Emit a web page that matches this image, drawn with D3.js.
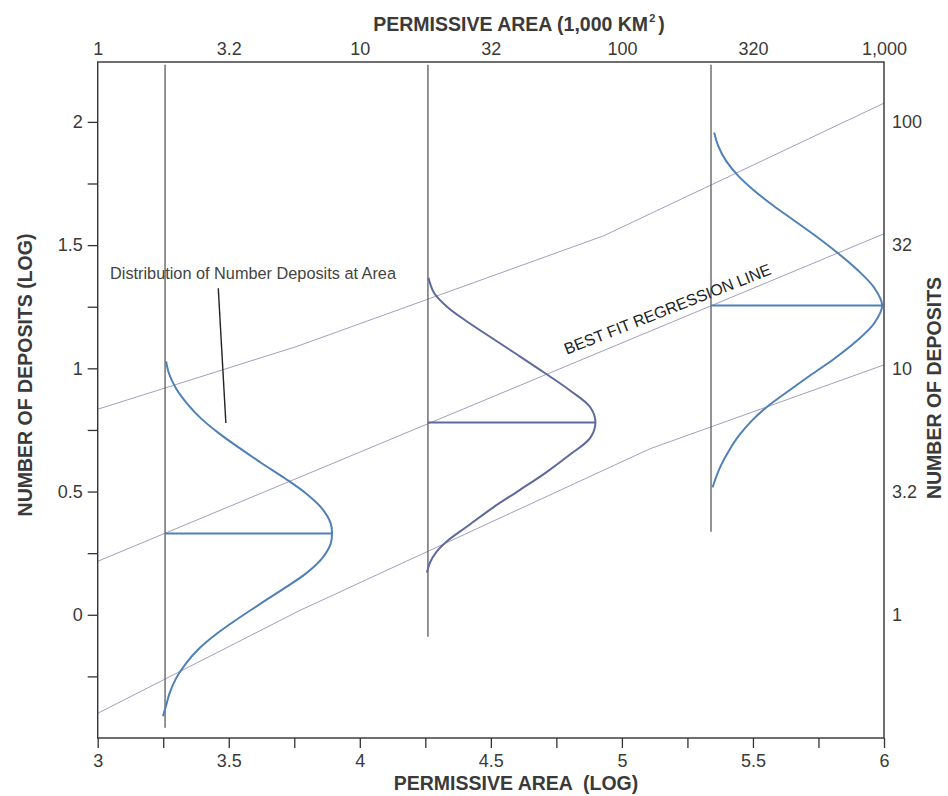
<!DOCTYPE html>
<html>
<head>
<meta charset="utf-8">
<script src="https://cdn.jsdelivr.net/npm/d3@7"></script>
<style>
  body { margin: 0; background: #fff; }
  svg { display: block; font-family: "Liberation Sans", Arial, Helvetica, sans-serif; }
  .axis text { font-size: 18px; fill: #3a3a3a; }
  .axis line { stroke: #333; stroke-width: 1.3; }
  .axis path { display: none; }
  .title { font-size: 19.5px; font-weight: bold; fill: #3a3a3a; white-space: pre; }
</style>
</head>
<body>
<div id="chart"></div>
<script>
// Ticks and labels
let xTicks = [3, 3.25, 3.5, 3.75, 4, 4.25, 4.5, 4.75, 5, 5.25, 5.5, 5.75, 6];
let yTicks = [-0.25, 0, 0.25, 0.5, 0.75, 1, 1.25, 1.5, 1.75, 2];
let topTickValues = [3, 3.5, 4, 4.5, 5, 5.5, 6];
let topTickLabels = ["1", "3.2", "10", "32", "100", "320", "1,000"];
let rightTickValues = [0, 0.5, 1, 1.5, 2];
let rightTickLabels = ["1", "3.2", "10", "32", "100"];

// Regression line and its bands (log area, log deposits)
let fitLine = [[3.0, 0.217], [6.0, 1.546]];
let upperBand = [[3.0, 0.834], [3.76, 1.089], [4.931, 1.538], [6.0, 2.076]];
let lowerBand = [[3.0, -0.400], [3.772, 0.018], [5.108, 0.674], [6.0, 1.014]];

// Distributions at three areas
let distX = [3.257, 4.26, 5.34];
let distMean = [0.33, 0.78, 1.255];
let distLineBottom = [-0.458, -0.089, 0.337];
let curve1 = [[3.261, 1.028], [3.272, 0.979], [3.299, 0.918], [3.341, 0.857], [3.394, 0.797], [3.463, 0.736],
              [3.543, 0.675], [3.627, 0.614], [3.715, 0.553], [3.795, 0.492], [3.856, 0.431], [3.889, 0.371],
              [3.894, 0.330], [3.889, 0.289], [3.856, 0.229], [3.795, 0.168], [3.711, 0.107], [3.623, 0.046],
              [3.536, -0.015], [3.455, -0.076], [3.387, -0.137], [3.337, -0.197], [3.299, -0.258],
              [3.274, -0.319], [3.261, -0.368], [3.249, -0.412]];
let curve2 = [[4.262, 1.368], [4.283, 1.307], [4.336, 1.247], [4.409, 1.190], [4.501, 1.125], [4.600, 1.056],
              [4.703, 0.983], [4.802, 0.910], [4.880, 0.841], [4.899, 0.780], [4.880, 0.719], [4.802, 0.650],
              [4.710, 0.577], [4.607, 0.504], [4.508, 0.435], [4.409, 0.358], [4.336, 0.301], [4.291, 0.253],
              [4.268, 0.212], [4.256, 0.172]];
let curve3 = [[5.352, 1.957], [5.367, 1.904], [5.397, 1.843], [5.443, 1.782], [5.504, 1.722], [5.577, 1.661],
              [5.657, 1.600], [5.737, 1.539], [5.821, 1.470], [5.897, 1.401], [5.962, 1.328], [5.993, 1.255],
              [5.962, 1.182], [5.893, 1.109], [5.806, 1.036], [5.718, 0.971], [5.638, 0.910], [5.560, 0.849],
              [5.497, 0.789], [5.447, 0.728], [5.409, 0.667], [5.378, 0.606], [5.359, 0.557], [5.346, 0.517]];
let curves = [curve1, curve2, curve3];
let curveColors = ["#4f80b7", "#5e6a9c", "#4f80b7"];

let width = 948, height = 796;

let x = d3.scaleLinear().domain([3, 6]).range([97.7, 884]);
let y = d3.scaleLinear().domain([-0.5, 2.243]).range([738, 62]);

let svg = d3.select("#chart").append("svg")
    .attr("width", width)
    .attr("height", height);

svg.append("clipPath").attr("id", "plot-clip")
    .append("rect")
    .attr("x", x(3)).attr("y", y(2.243))
    .attr("width", x(6) - x(3)).attr("height", y(-0.5) - y(2.243));

let plot = svg.append("g").attr("clip-path", "url(#plot-clip)");
let line = d3.line().x(d => x(d[0])).y(d => y(d[1]));

// Regression line and bands
[upperBand, fitLine, lowerBand].forEach(function(band) {
    plot.append("path")
        .attr("d", line(band))
        .attr("fill", "none")
        .attr("stroke", "#9993b5")
        .attr("stroke-width", 0.9);
});

// Vertical lines at each area
plot.selectAll(".area-line")
    .data(distX)
    .enter().append("line")
    .attr("class", "area-line")
    .attr("x1", d => x(d)).attr("x2", d => x(d))
    .attr("y1", y(2.232))
    .attr("y2", (d, i) => y(distLineBottom[i]))
    .attr("stroke", "#5a5a5a")
    .attr("stroke-width", 1.3);

// Distribution curves and their mean lines
let curveLine = d3.line().x(d => x(d[0])).y(d => y(d[1])).curve(d3.curveCatmullRom.alpha(0.5));
curves.forEach(function(c, i) {
    plot.append("path")
        .attr("d", curveLine(c))
        .attr("fill", "none")
        .attr("stroke", curveColors[i])
        .attr("stroke-width", 2);
    plot.append("line")
        .attr("x1", x(distX[i]))
        .attr("x2", x(d3.max(c, d => d[0])))
        .attr("y1", y(distMean[i])).attr("y2", y(distMean[i]))
        .attr("stroke", curveColors[i])
        .attr("stroke-width", 2);
});

// Frame
svg.append("rect")
    .attr("x", x(3)).attr("y", y(2.243))
    .attr("width", x(6) - x(3)).attr("height", y(-0.5) - y(2.243))
    .attr("fill", "none")
    .attr("stroke", "#333")
    .attr("stroke-width", 1.4);

// Axes
let half = d => (d * 2) % 1 === 0 ? String(d) : "";

svg.append("g").attr("class", "axis")
    .attr("transform", "translate(0," + y(-0.5) + ")")
    .call(d3.axisBottom(x).tickValues(xTicks).tickSize(10).tickPadding(6).tickFormat(half));

svg.append("g").attr("class", "axis")
    .attr("transform", "translate(" + x(3) + ",0)")
    .call(d3.axisLeft(y).tickValues(yTicks).tickSize(10).tickPadding(5).tickFormat(half));

svg.append("g").attr("class", "axis")
    .attr("transform", "translate(0," + y(2.243) + ")")
    .call(d3.axisTop(x).tickValues(topTickValues).tickSize(0).tickPadding(7)
        .tickFormat((d, i) => topTickLabels[i]));

svg.append("g").attr("class", "axis")
    .attr("transform", "translate(" + x(6) + ",0)")
    .call(d3.axisRight(y).tickValues(rightTickValues).tickSize(0).tickPadding(8)
        .tickFormat((d, i) => rightTickLabels[i]));

// Axis titles
let topTitle = svg.append("text")
    .attr("class", "title")
    .attr("x", 519).attr("y", 31)
    .attr("text-anchor", "middle");
topTitle.append("tspan").text("PERMISSIVE AREA (1,000 KM");
topTitle.append("tspan").attr("font-size", "11px").attr("dy", -9).attr("dx", 1).text("2");
topTitle.append("tspan").attr("dy", 9).attr("dx", 3).text(")");

svg.append("text")
    .attr("class", "title")
    .attr("x", 516).attr("y", 790)
    .attr("text-anchor", "middle")
    .text("PERMISSIVE AREA  (LOG)");

svg.append("text")
    .attr("class", "title")
    .attr("transform", "translate(32,375) rotate(-90)")
    .attr("text-anchor", "middle")
    .text("NUMBER OF DEPOSITS (LOG)");

svg.append("text")
    .attr("class", "title")
    .attr("transform", "translate(941,388) rotate(-90)")
    .attr("text-anchor", "middle")
    .text("NUMBER OF DEPOSITS");

// Annotations
svg.append("text")
    .attr("x", x(3.047)).attr("y", y(1.363))
    .attr("font-size", "16.3px")
    .attr("fill", "#444")
    .text("Distribution of Number Deposits at Area");

svg.append("path")
    .attr("d", line([[3.460, 1.325], [3.489, 0.778]]))
    .attr("stroke", "#222")
    .attr("stroke-width", 1.4);

svg.append("text")
    .attr("transform", "translate(" + x(4.79) + "," + y(1.055) + ") rotate(-21.5)")
    .attr("font-size", "16px")
    .attr("fill", "#222")
    .text("BEST FIT REGRESSION LINE");
</script>
</body>
</html>
